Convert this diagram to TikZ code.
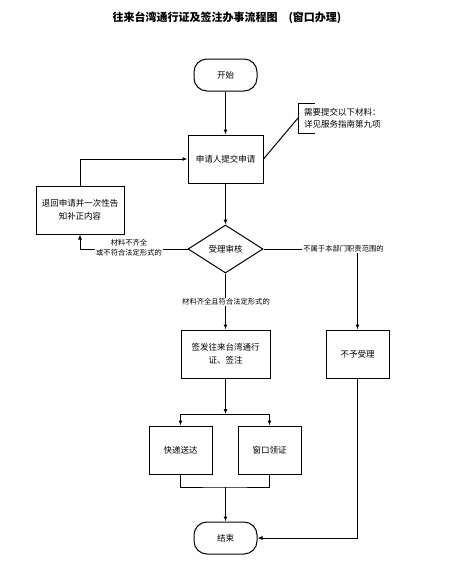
\documentclass[tikz,border=0pt]{standalone}
\usepackage{fontspec}
\setmainfont{Noto Sans CJK SC}
\usetikzlibrary{shapes.geometric,arrows.meta}
\tikzset{
  box/.style={draw,line width=1pt,minimum width=63pt,minimum height=48pt,inner sep=1pt,align=center,font=\fontsize{8.5}{13}\selectfont},
  term/.style={box,rounded corners=13pt,minimum height=32pt},
  dec/.style={draw,line width=1pt,diamond,aspect=1.5625,minimum width=75pt,minimum height=48pt,inner sep=0pt,font=\fontsize{8.5}{10}\selectfont},
  conn/.style={line width=1pt},
  arr/.style={conn,-{Latex[length=5pt,width=4pt]}},
  elabel/.style={fill=white,inner sep=1pt,align=center,font=\fontsize{7.3}{10}\selectfont},
}
\begin{document}
\begin{tikzpicture}[x=1pt,y=-1pt]
\useasboundingbox (0,0) rectangle (466,571);
\node[font=\bfseries\fontsize{11}{13}\selectfont] (title) at (227,18) {往来台湾通行证及签注办事流程图\quad(窗口办理)};
\node[term] (start) at (225.5,75) {开始};
\node[box,minimum width=75pt] (apply) at (225.5,159) {申请人提交申请};
\node[box,minimum width=88pt,text width=84pt] (ret) at (80,210) {退回申请并一次性告\\知补正内容};
\node[dec] (chk) at (225.5,249) {受理审核};
\node[box,minimum width=89pt,text width=84pt] (issue) at (225.5,354) {签发往来台湾通行\\证、签注};
\node[box] (reject) at (357.5,354) {不予受理};
\node[box] (express) at (180.5,450) {快递送达};
\node[box] (window) at (269.5,450) {窗口领证};
\node[term] (end) at (225.5,538) {结束};
% note
\coordinate (notept) at (298,118);
\draw[conn] (315,103) -- (298,103) -- (298,133) -- (315,133);
\node[anchor=west,align=left,inner sep=0pt,font=\fontsize{8.5}{12}\selectfont] (note) at (304,118) {需要提交以下材料：\\详见服务指南第九项};
\draw[conn] (apply.east) -- (notept);
% connectors
\draw[arr] (start) -- (apply);
\draw[arr] (apply) -- (chk);
\draw[arr] (ret.north) |- (apply.west);
\draw[arr] (chk.west) -| (ret.south);
\node[elabel] (l1) at (129,248) {材料不齐全\\或不符合法定形式的};
\draw[arr] (chk.east) -| (reject.north);
\node[elabel] (l2) at (343.5,249) {不属于本部门职责范围的};
\draw[arr] (chk.south) -- (issue.north);
\node[elabel] (l3) at (226,302) {材料齐全且符合法定形式的};
\coordinate (j1) at (225.5,414);
\draw[arr] (issue.south) -- (j1);
\draw[arr] (j1) -| (express.north);
\draw[arr] (j1) -| (window.north);
\coordinate (j2) at (225.5,487);
\draw[conn] (express.south) |- (j2) -| (window.south);
\draw[arr] (j2) -- (end.north);
\draw[arr] (reject.south) |- (end.east);
\end{tikzpicture}
\end{document}
